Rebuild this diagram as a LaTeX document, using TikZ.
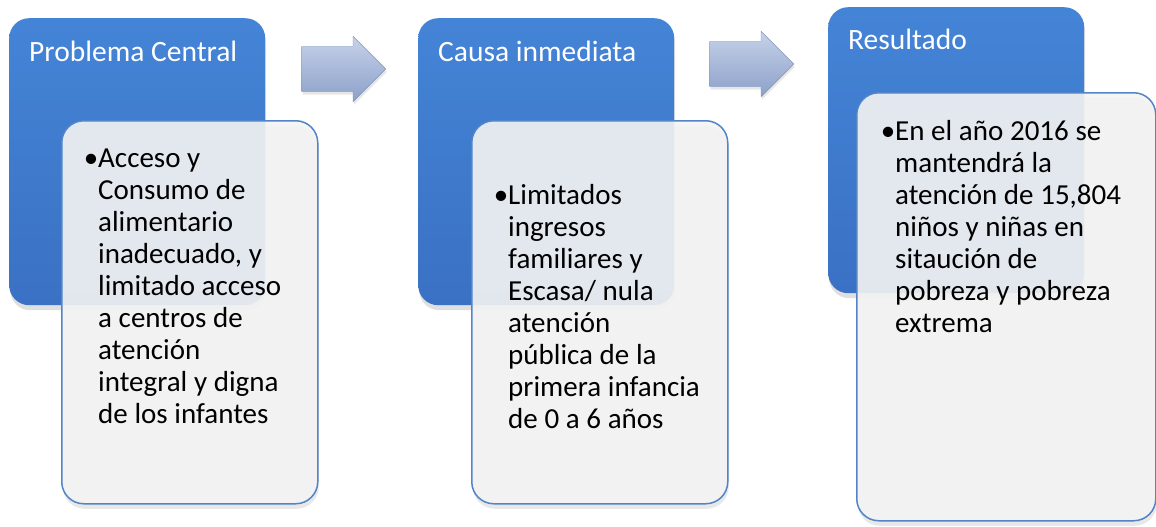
\documentclass[tikz,border=0pt]{standalone}
\usepackage{fontspec}
\setmainfont{Carlito}
\usetikzlibrary{shapes.arrows, shadows}

\definecolor{headtop}{RGB}{68,132,214}
\definecolor{headbot}{RGB}{58,113,196}
\definecolor{cardfill}{RGB}{244,244,244}
\definecolor{cardline}{RGB}{82,132,198}
\definecolor{arrowtop}{RGB}{198,210,234}
\definecolor{arrowbot}{RGB}{140,160,200}
\definecolor{arrowedge}{RGB}{124,144,184}

\begin{document}
\begin{tikzpicture}[
  x=1pt, y=-1pt,
  headbox/.style={anchor=north west, inner sep=0pt, rounded corners=20pt,
    minimum width=256pt, minimum height=287pt,
    top color=headtop, bottom color=headbot,
    drop shadow={shadow xshift=1pt, shadow yshift=-5pt, opacity=0.25}},
  card/.style={anchor=north west, inner sep=0pt, rounded corners=22pt,
    minimum width=256pt, minimum height=383pt,
    draw=cardline, line width=1.5pt, fill=cardfill, fill opacity=0.9,
    drop shadow={shadow xshift=1pt, shadow yshift=-5pt, opacity=0.18}},
  title/.style={anchor=base west, inner sep=0pt, text=white,
    font=\fontsize{29.5}{34}\selectfont},
  bullets/.style={anchor=base west, inner sep=0pt, text width=240pt, align=left,
    font=\fontsize{29}{32}\selectfont,
    execute at begin node={\spaceskip=0.23em\relax}},
  stepper/.style={single arrow, anchor=tip, inner sep=0pt,
    text height=22.5pt, text depth=22.5pt, text width=0pt,
    minimum height=84pt, single arrow head extend=10pt,
    single arrow tip angle=90, top color=arrowtop, bottom color=arrowbot,
    draw=arrowedge, line width=0.4pt,
    drop shadow={shadow xshift=1pt, shadow yshift=-3pt, opacity=0.2}}
]
\useasboundingbox (0,0) rectangle (1156,527);

% problema central
\node[headbox] (prob) at (9,18) {};
\node[title] (probtitle) at (29,62) {Problema Central};
\node[card] (probcard) at (61,120) {};
\node[bullets] (probtxt) at (98,167) {\llap{•}Acceso y\\Consumo de\\alimentario\\inadecuado, y\\limitado acceso\\a centros de\\atención\\integral y digna\\de los infantes};

% causa inmediata
\node[headbox] (causa) at (418,18) {};
\node[title] (causatitle) at (438,62) {Causa inmediata};
\node[card] (causacard) at (471,120) {};
\node[bullets] (causatxt) at (508,204) {\llap{•}Limitados\\ingresos\\familiares y\\Escasa/ nula\\atención\\pública de la\\primera infancia\\de 0 a 6 años};

% resultado
\node[headbox, minimum height=286pt] (res) at (828,7) {};
\node[title] (restitle) at (848,50) {Resultado};
\node[card, minimum width=299pt, minimum height=428pt] (rescard) at (856,92) {};
\node[bullets] (restxt) at (895,140) {\llap{•}En el año 2016 se\\mantendrá la\\atención de 15,804\\niños y niñas en\\sitaución de\\pobreza y pobreza\\extrema};

% flechas
\node[stepper] (arr1) at (386,69) {};
\node[stepper] (arr2) at (794,64) {};
\end{tikzpicture}
\end{document}
